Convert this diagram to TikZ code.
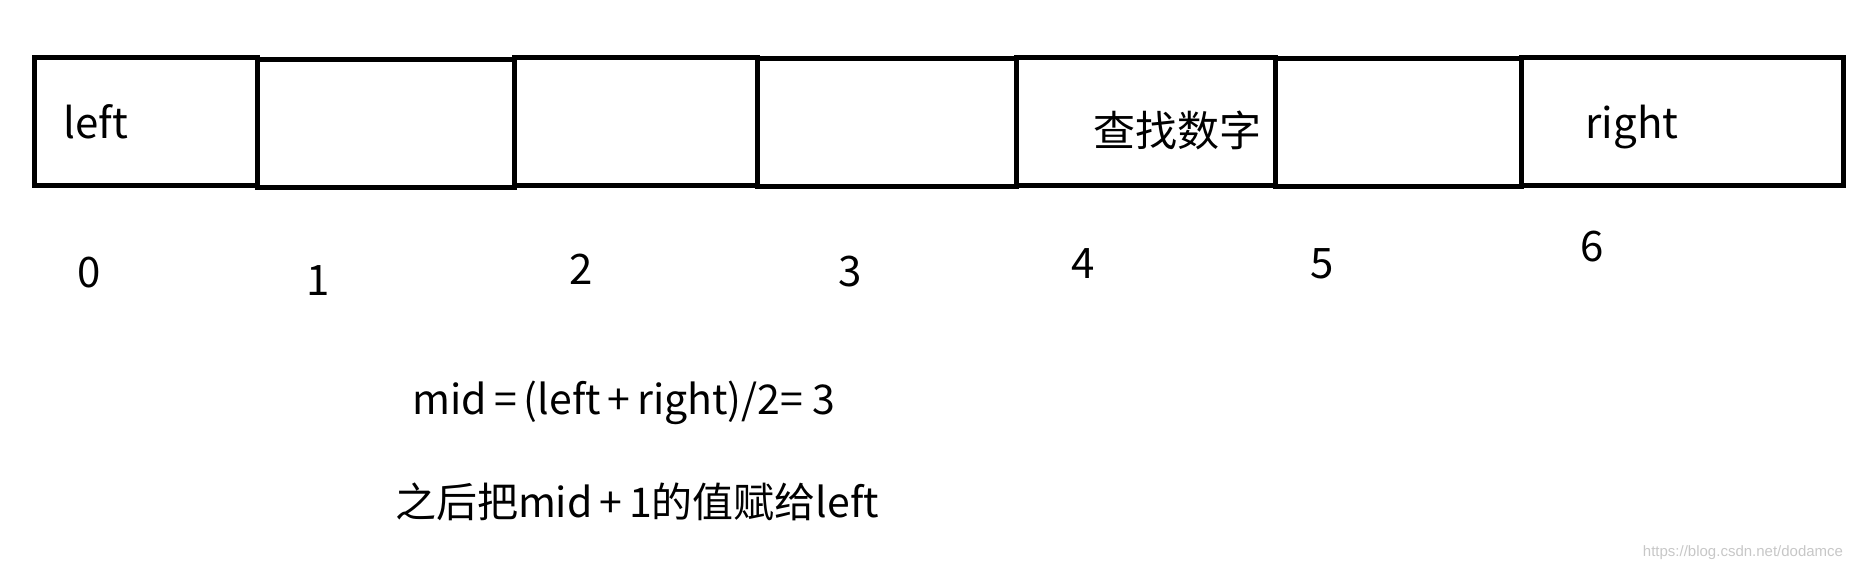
\documentclass[tikz,border=0pt]{standalone}
\usepackage{fontspec}
\setmainfont{Noto Sans CJK SC}
\newfontfamily\markfont{Liberation Sans}
\tikzset{
  cell/.style={draw,line width=5pt,rectangle,inner sep=0pt,anchor=north west,minimum height=128pt},
  tag/.style={font=\fontsize{42}{50}\selectfont,inner sep=0pt},
  idx/.style={font=\fontsize{42}{50}\selectfont,inner sep=0pt},
  note/.style={font=\fontsize{41}{50}\selectfont,inner sep=0pt}
}
\begin{document}
\begin{tikzpicture}[x=1pt,y=-1pt]
\useasboundingbox (0,0) rectangle (1860,570);
% the seven cells of the array
\foreach \a/\b/\n/\d in {32/255/0/0, 255/512/1/2, 512/755/2/0, 755/1014/3/1,
                         1014/1273/4/0, 1273/1519/5/1, 1519/1841/6/0}
  \node[cell,minimum width={(\b-\a)*1pt}] (c\n) at (\a,55+\d) {};
% texts in the cells
\node[tag] (lft) at (96,122) {left};
\node[tag] (goal) at (1177,130) {查找数字};
\node[tag] (rgt) at (1632,127) {right};
% indices
\node[idx] (i0) at (89,273) {0};
\node[idx] (i1) at (318,281) {1};
\node[idx] (i2) at (581,269) {2};
\node[idx] (i3) at (850,272) {3};
\node[idx] (i4) at (1083,264) {4};
\node[idx] (i5) at (1322,264) {5};
\node[idx] (i6) at (1592,247) {6};
% explanation
\node[note] (mid) at (624,403) {mid\,=\,(left\,+\,right)/2=\ 3};
\node[note] (step2) at (637,502) {之后把mid\,+\,1的值赋给left};
\node[font=\markfont\fontsize{15}{18}\selectfont,text=black!22,inner sep=0pt] (mark) at (1743,553) {https://blog.csdn.net/dodamce};
\end{tikzpicture}
\end{document}
